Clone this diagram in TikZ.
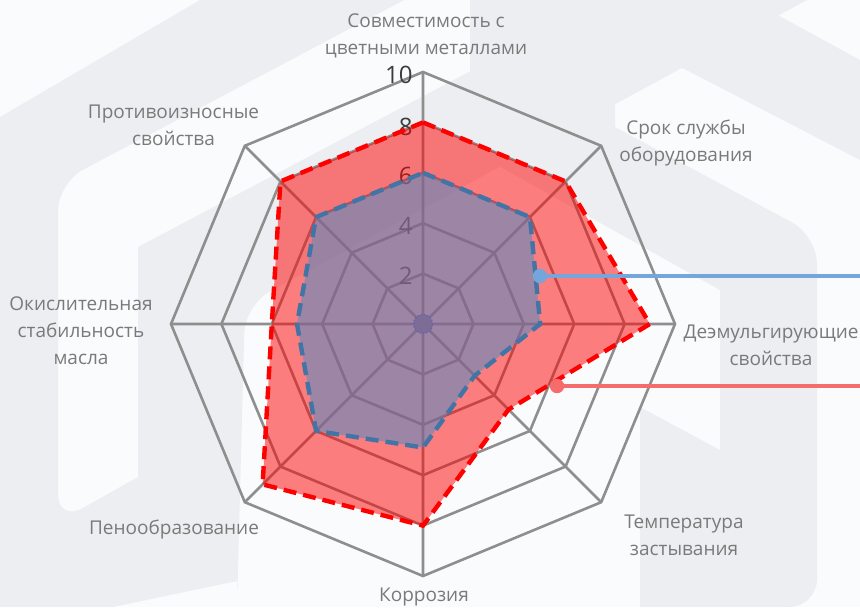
\documentclass[tikz,border=0pt]{standalone}
\usepackage{fontspec}
\setmainfont{Open Sans}

\definecolor{gridgray}{HTML}{8E8E8E}
\definecolor{labelgray}{HTML}{7A7A7A}
\definecolor{tickgray}{HTML}{3C3C3C}
\definecolor{fillblue}{RGB}{80,140,200}
\definecolor{lineblue}{HTML}{4274A6}
\definecolor{callblue}{HTML}{74A6DC}
\definecolor{callred}{HTML}{F46C6C}
\definecolor{centrepurple}{HTML}{7C6C96}
\definecolor{wmgray}{HTML}{EDEEF1}
\definecolor{wmwhite}{HTML}{FAFBFC}

\tikzset{
  ringline/.style={draw=gridgray, line width=1.3pt, line join=miter},
  axislabel/.style={text=labelgray, font=\fontsize{9.5}{13.5}\selectfont, align=center, inner sep=0pt},
  ticklabel/.style={text=tickgray, font=\fontsize{12}{14}\selectfont, anchor=east, inner sep=0pt},
  reddash/.style={draw=red, line width=2.2pt, dash pattern=on 6.5pt off 3.5pt, line join=miter},
  bluedash/.style={draw=lineblue, line width=2.2pt, dash pattern=on 6.5pt off 3.5pt, line join=miter},
  callout/.style={line width=1.8pt}
}

\begin{document}
\begin{tikzpicture}[x=0.5pt, y=-0.5pt]
  % background with faint logo
  \fill[wmwhite] (0,0) rectangle (860,607);
  \fill[wmgray] (0,117) -- (200,0) -- (404,0) [rounded corners=14pt] -- (58,183) -- (58,522)
    [sharp corners] -- (138,477) -- (138,247) -- (605,0) -- (807,0)
    [rounded corners=14pt] -- (245,305) -- (237,607) [sharp corners] -- (237,581) -- (113,607) -- (0,607) -- cycle;
  \fill[wmgray] (470,0) -- (750,0) -- (860,60) -- (860,160) -- (615,33) -- (615,127)
    [rounded corners=14pt] -- (817,236) -- (817,607) [sharp corners] -- (640,607) -- (640,407)
    -- (720,450) -- (720,290) -- (470,150) -- cycle;
  \useasboundingbox (0,0) rectangle (860,607);

  \begin{scope}[shift={(423,324)}, x=12.6pt, y=12.6pt]
    % rings
    \draw[ringline] (90:10) -- (45:10) -- (0:10) -- (-45:10) -- (-90:10) -- (-135:10) -- (180:10) -- (135:10) -- cycle;
    \draw[ringline] (90:8) -- (45:8) -- (0:8) -- (-45:8) -- (-90:8) -- (-135:8) -- (180:8) -- (135:8) -- cycle;
    \draw[ringline] (90:6) -- (45:6) -- (0:6) -- (-45:6) -- (-90:6) -- (-135:6) -- (180:6) -- (135:6) -- cycle;
    \draw[ringline] (90:4) -- (45:4) -- (0:4) -- (-45:4) -- (-90:4) -- (-135:4) -- (180:4) -- (135:4) -- cycle;
    \draw[ringline] (90:2) -- (45:2) -- (0:2) -- (-45:2) -- (-90:2) -- (-135:2) -- (180:2) -- (135:2) -- cycle;
    % spokes
    \draw[ringline] (0,0) -- (90:10) (0,0) -- (45:10) (0,0) -- (0:10) (0,0) -- (-45:10)
      (0,0) -- (-90:10) (0,0) -- (-135:10) (0,0) -- (180:10) (0,0) -- (135:10);
    % scale
    \node[ticklabel] (t10) at (-0.4,9.88) {10};
    \node[ticklabel] (t8) at (-0.4,7.82) {8};
    \node[ticklabel] (t6) at (-0.4,5.87) {6};
    \node[ticklabel] (t4) at (-0.4,3.89) {4};
    \node[ticklabel] (t2) at (-0.4,1.90) {2};
    % series
    \fill[red, fill opacity=0.5] (90:8) -- (45:8) -- (0:9) -- (-45:4.8) -- (-90:8) -- (-135:9) -- (180:6) -- (135:8) -- cycle;
    \fill[fillblue, fill opacity=0.55] (90:6) -- (45:6) -- (0:4.65) -- (-45:2.9) -- (-90:4.9) -- (-135:6) -- (180:5) -- (135:6) -- cycle;
    \draw[reddash] (90:8) -- (45:8) -- (0:9) -- (-45:4.8) -- (-90:8) -- (-135:9) -- (180:6) -- (135:8) -- cycle;
    \draw[bluedash] (90:6) -- (45:6) -- (0:4.65) -- (-45:2.9) -- (-90:4.9) -- (-135:6) -- (180:5) -- (135:6) -- cycle;
    \filldraw[fill=centrepurple, draw=fillblue!70!violet, densely dotted, line width=0.6pt] (0,0) circle (0.38);
  \end{scope}

  % callouts
  \coordinate (bluept) at (540,276);
  \coordinate (blueend) at (860,276);
  \coordinate (redpt) at (557,386);
  \coordinate (redend) at (860,386);
  \draw[callout, callblue] (bluept) -- (blueend);
  \fill[callblue] (bluept) circle (3.6pt);
  \draw[callout, callred] (redpt) -- (redend);
  \fill[callred] (redpt) circle (3.6pt);

  % axis labels
  \node[axislabel] (metal) at (426,35.5) {Совместимость с\\цветными металлами};
  \node[axislabel] (life) at (686,143) {Срок службы\\оборудования};
  \node[axislabel] (demuls) at (771,345) {Деэмульгирующие\\свойства};
  \node[axislabel] (pour) at (684,535.5) {Температура\\застывания};
  \node[axislabel] (corr) at (424,597) {Коррозия};
  \node[axislabel] (foam) at (174,529) {Пенообразование};
  \node[axislabel] (oxid) at (81,331) {Окислительная\\стабильность\\масла};
  \node[axislabel] (wear) at (173.5,125.5) {Противоизносные\\свойства};
\end{tikzpicture}
\end{document}
